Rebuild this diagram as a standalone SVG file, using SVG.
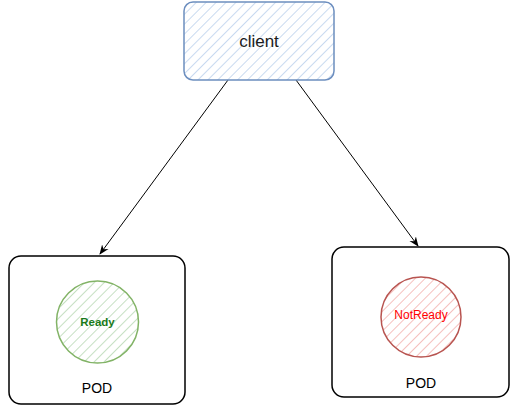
<svg xmlns="http://www.w3.org/2000/svg" width="515" height="408" viewBox="0 0 515 408">
<style>
.lbl{font-family:"Liberation Sans",Arial,sans-serif;text-anchor:middle;dominant-baseline:central}
.pod{fill:#ffffff;stroke:#000000;stroke-width:1.5}
.edge{stroke:#000000;stroke-width:1;fill:none}
</style>
<defs>
<pattern id="hb" width="7" height="7" patternUnits="userSpaceOnUse" patternTransform="rotate(45)">
<rect width="7" height="7" fill="#ffffff"/>
<line x1="0" y1="0" x2="0" y2="7" stroke="#c9daf0" stroke-width="2"/>
</pattern>
<pattern id="hg" width="7" height="7" patternUnits="userSpaceOnUse" patternTransform="rotate(45)">
<rect width="7" height="7" fill="#ffffff"/>
<line x1="0" y1="0" x2="0" y2="7" stroke="#c6e0c3" stroke-width="2"/>
</pattern>
<pattern id="hr" width="7" height="7" patternUnits="userSpaceOnUse" patternTransform="rotate(45)">
<rect width="7" height="7" fill="#ffffff"/>
<line x1="0" y1="0" x2="0" y2="7" stroke="#f5c0be" stroke-width="2"/>
</pattern>
<marker id="arr" markerWidth="10" markerHeight="10" refX="9" refY="5" orient="auto" markerUnits="userSpaceOnUse">
<path d="M0,1 L10,5 L0,9 L3,5 Z" fill="#000000"/>
</marker>
</defs>
<g id="connectors">
<line class="edge" x1="228" y1="80" x2="100" y2="254" marker-end="url(#arr)"/>
<line class="edge" x1="296" y1="80" x2="418" y2="246" marker-end="url(#arr)"/>
</g>
<g id="client">
<rect x="184" y="2" width="150" height="78" rx="9" fill="url(#hb)" stroke="#6c8ebf" stroke-width="1.5"/>
<text class="lbl" x="259" y="41" font-size="17" fill="#1a1a1a">client</text>
</g>
<g id="pod-left">
<rect class="pod" x="9" y="256" width="176" height="148" rx="12"/>
<text class="lbl" x="97" y="388" font-size="14" fill="#000000">POD</text>
</g>
<g id="ready">
<circle cx="97.5" cy="322" r="41" fill="url(#hg)" stroke="#82b366" stroke-width="1.5"/>
<text class="lbl" x="97.5" y="322" font-size="11.5" font-weight="bold" fill="#1a7a1a">Ready</text>
</g>
<g id="pod-right">
<rect class="pod" x="332" y="247" width="177" height="150" rx="12"/>
<text class="lbl" x="421" y="383" font-size="14" fill="#000000">POD</text>
</g>
<g id="notready">
<circle cx="421" cy="317" r="40" fill="url(#hr)" stroke="#b85450" stroke-width="1.5"/>
<text class="lbl" x="421" y="315" font-size="12" fill="#ff0000">NotReady</text>
</g>
</svg>
